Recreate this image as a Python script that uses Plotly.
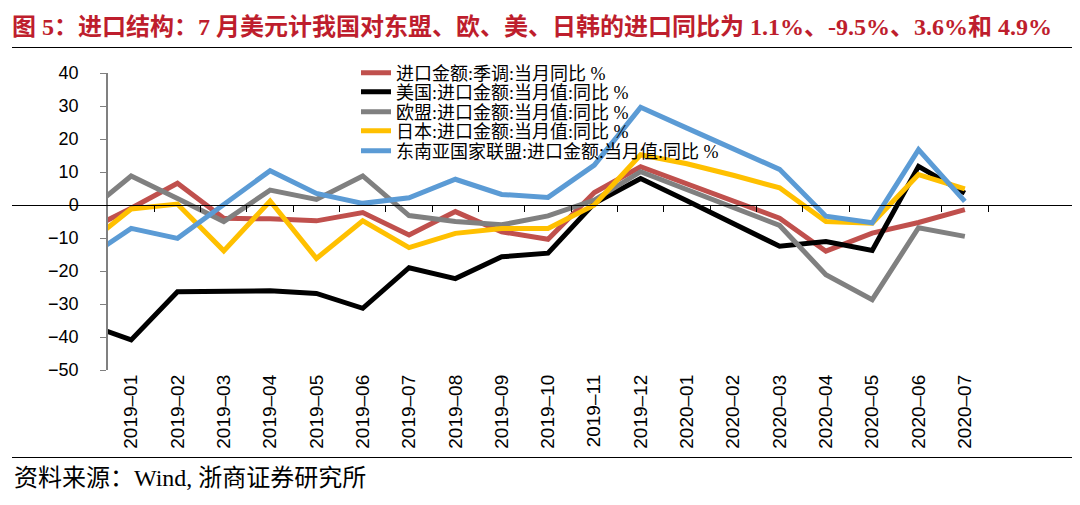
import plotly.graph_objects as go

# 2018-12 is only there for the stub of line at the left edge
months = ["2018-12", "2019-01", "2019-02", "2019-03", "2019-04", "2019-05", "2019-06",
          "2019-07", "2019-08", "2019-09", "2019-10", "2019-11", "2019-12",
          "2020-01", "2020-02", "2020-03", "2020-04", "2020-05", "2020-06", "2020-07"]

total_sa = [-8.0, -1.0, 6.6, -4.0, -4.2, -4.8, -2.3, -9.1, -2.0, -8.1, -10.4, 3.8, 11.6,
            6.5, 1.3, -4.0, -14.0, -8.5, -5.3, -1.4]
usa = [-35.9, -40.9, -26.3, -26.0, -26.0, -26.8, -31.3, -19.0, -22.3, -15.7, -14.6, 0.5, 8.0,
       1.3, -5.7, -12.5, -11.1, -13.8, 11.7, 3.6]
eu = [-2.8, 8.8, 2.0, -5.0, 4.5, 1.7, 8.8, -3.2, -5.0, -6.0, -3.3, 1.5, 10.1,
      4.7, -0.7, -6.2, -21.1, -28.7, -6.9, -9.5]
japan = [-12.4, -1.2, 0.3, -13.9, 1.2, -16.2, -4.8, -12.9, -8.6, -7.1, -7.1, 0.0, 15.2,
         12.5, 9.0, 5.2, -5.0, -5.5, 9.2, 4.9]
asean = [-16.5, -7.1, -10.1, 0.0, 10.4, 3.5, 0.5, 2.2, 7.8, 3.2, 2.3, 12.1, 29.6,
         23.3, 17.0, 10.8, -3.4, -5.4, 16.8, 1.1]

names = ["进口金额:季调:当月同比 %", "美国:进口金额:当月值:同比 %", "欧盟:进口金额:当月值:同比 %",
         "日本:进口金额:当月值:同比 %", "东南亚国家联盟:进口金额:当月值:同比 %"]
series = [total_sa, usa, eu, japan, asean]
colors = ["#C0504D", "#000000", "#808080", "#FFC000", "#5B9BD5"]

title_text = "图 5：进口结构：7 月美元计我国对东盟、欧、美、日韩的进口同比为 1.1%、-9.5%、3.6%和 4.9%"
source_text = "资料来源：Wind, 浙商证券研究所"

# page body has an 8px margin, so work in figure pixels = screen pixels - 8
W, H = 1072, 497
# paper spans the two rules (x 4..1067, y 39..449); the plot sits inside via domains
L, R, T, B = 4, W - 1067, 39, H - 449
pw, ph = W - L - R, H - T - B

def px_x(p):
    return (p - L) / pw

def px_y(p):
    return (H - B - p) / ph

ymin, ymax = -50, 40
plot_x = [px_x(100), px_x(980)]
plot_y = [px_y(362), px_y(65)]
zero_pos = plot_y[0] + (0 - ymin) / (ymax - ymin) * (plot_y[1] - plot_y[0])

serif_cjk = "Liberation Serif, Noto Sans CJK SC"
idx = list(range(len(months)))

fig = go.Figure()
legend_rows = [65, 84, 104, 123, 143]
for i, (nm, s, c) in enumerate(zip(names, series, colors)):
    lg = "legend" if i == 0 else "legend%d" % (i + 1)
    fig.add_trace(go.Scatter(x=idx, y=s, name=nm, mode="lines", legend=lg,
                             line=dict(color=c, width=5)))
    fig.update_layout({lg: dict(x=px_x(348), y=px_y(legend_rows[i]), xanchor="left",
                                yanchor="middle", bgcolor="rgba(0,0,0,0)",
                                font=dict(family=serif_cjk, size=18, color="black"))})
# empty helper traces so the extra axes (zero ticks, the two rules) get drawn
for ax in ["x2", "x3", "x4"]:
    fig.add_trace(go.Scatter(x=[], y=[], xaxis=ax, showlegend=False, hoverinfo="skip"))

# full-width rules under the title and above the source, drawn as bare axis lines
rule = dict(domain=[0, 1], anchor="free", showline=True, linecolor="black", linewidth=1.2,
            ticks="", showticklabels=False, showgrid=False, zeroline=False, range=[0, 1])

fig.update_layout(
    width=W, height=H,
    margin=dict(l=L, r=R, t=T, b=B),
    paper_bgcolor="white", plot_bgcolor="rgba(0,0,0,0)",
    title=dict(text="<b>" + title_text + "</b>", x=4 / W, xref="container", xanchor="left",
               y=1 - 19 / H, yref="container", yanchor="middle",
               font=dict(family=serif_cjk, size=24, color="#BE1E2D")),
    xaxis=dict(domain=plot_x, range=[0.5, len(months) - 0.5], tickvals=idx[1:],
               ticktext=[m.replace("-", "–") for m in months[1:]], tickangle=-90,
               showgrid=False, zeroline=False, showline=False, ticks="",
               tickfont=dict(family="Liberation Sans, Arial", size=19, color="black")),
    xaxis2=dict(domain=plot_x, overlaying="x", anchor="free", position=zero_pos, side="bottom",
                range=[0.5, len(months) - 0.5], tickvals=[i + 0.5 for i in idx[1:]],
                ticks="outside", ticklen=6, tickcolor="black", tickwidth=1,
                showticklabels=False, showgrid=False, zeroline=False, showline=False),
    xaxis3=dict(rule, position=1, side="top"),
    xaxis4=dict(rule, position=0, side="bottom"),
    yaxis=dict(domain=plot_y, range=[ymin, ymax], dtick=10, showgrid=False, showline=True,
               linecolor="#808080", linewidth=1.5, ticks="outside", ticklen=6,
               tickcolor="#808080", zeroline=True, zerolinecolor="black", zerolinewidth=1,
               ticklabelstandoff=18,
               tickfont=dict(family="Liberation Sans, Arial", size=18, color="black")),
    showlegend=True,
)

fig.add_annotation(text=source_text, xref="paper", yref="paper",
                   x=px_x(4), y=px_y(470), xanchor="left", yanchor="middle",
                   showarrow=False, font=dict(family=serif_cjk, size=24, color="black"))

fig.write_html("out.html")
